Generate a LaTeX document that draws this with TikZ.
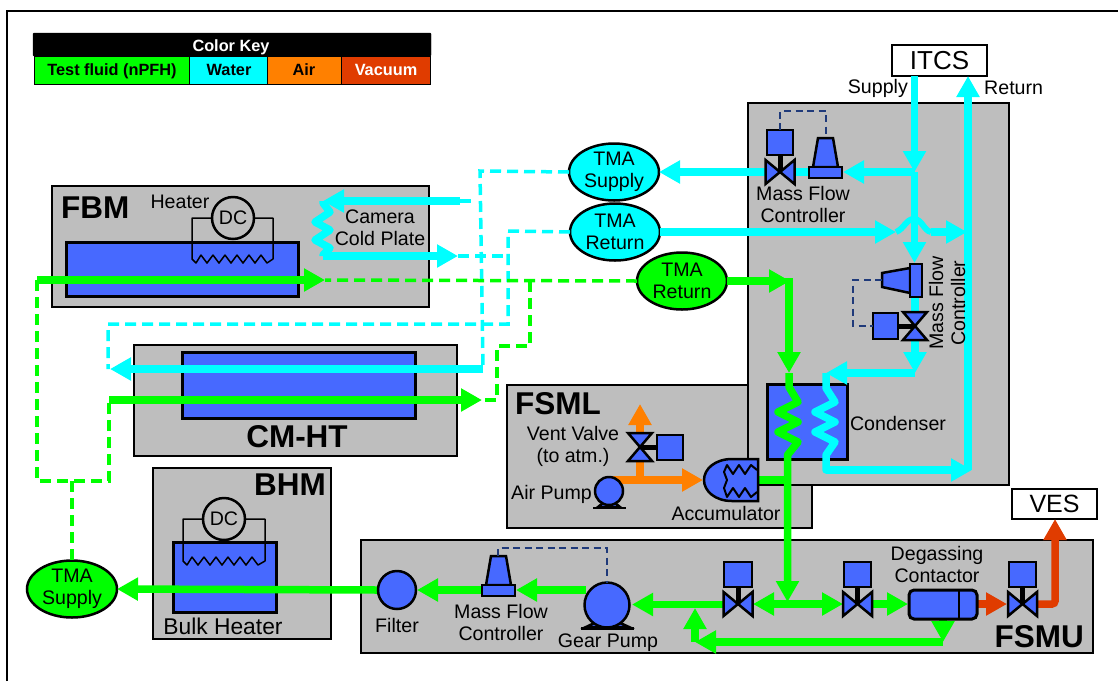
\documentclass[tikz,border=0pt]{standalone}
\usepackage{fontspec}
\setmainfont{Liberation Sans}
\usetikzlibrary{arrows.meta,shapes.geometric}
\definecolor{wgrey}{HTML}{BEBEBE}
\definecolor{wblue}{HTML}{4769FF}
\definecolor{wgreen}{HTML}{00FF00}
\definecolor{wcyan}{HTML}{00FFFF}
\definecolor{worange}{HTML}{FF8000}
\definecolor{wred}{HTML}{E03C00}
\definecolor{wnavy}{HTML}{1F3A7A}
\tikzset{
  lbl/.style={font=\fontsize{19.6}{22}\selectfont,align=center,inner sep=0pt,text=black},
  bigl/.style={font=\fontsize{31.5}{33}\selectfont\bfseries,inner sep=0pt,text=black},
  keyt/.style={font=\fontsize{16.3}{18}\selectfont\bfseries,inner sep=0pt,anchor=base},
  module/.style={draw=black,fill=wgrey,line width=2pt,inner sep=0pt,outer sep=0pt},
  blueb/.style={draw=black,fill=wblue,line width=3pt,inner sep=0pt,outer sep=0pt},
  whiteb/.style={draw=black,fill=white,line width=2.5pt,inner sep=0pt,outer sep=0pt},
  keyc/.style={draw=black,line width=1pt,inner sep=0pt,outer sep=0pt},
  ell/.style={ellipse,draw=black,line width=2.5pt,minimum width=90pt,minimum height=57pt,inner sep=0pt,outer sep=0pt,font=\fontsize{19.6}{22}\selectfont,align=center},
  pipe/.style={line width=7.5pt,line join=miter},
  gp/.style={pipe,draw=wgreen},
  cp/.style={pipe,draw=wcyan},
  op/.style={pipe,draw=worange},
  rp/.style={pipe,draw=wred},
  hd/.style={-{Triangle[length=21pt,width=22pt]}},
  dp/.style={line width=3.5pt,dash pattern=on 11pt off 6pt,line join=miter},
  sig/.style={draw=wnavy,line width=2pt,dash pattern=on 7pt off 4.5pt},
  shp/.style={draw=black,fill=wblue,line width=2.5pt,line join=miter},
  wire/.style={draw=black,line width=1.5pt},
  stem/.style={draw=black,line width=5pt},
  dcn/.style={circle,draw=black,fill=wgrey,line width=2.5pt,minimum size=42pt,inner sep=0pt,outer sep=0pt,font=\fontsize{19.6}{22}\selectfont},
  pumpc/.style={circle,draw=black,fill=wblue,line width=2.5pt,inner sep=0pt,outer sep=0pt},
  hvalve/.pic={\path[shp] (-14.5,-12)--(0,0)--(-14.5,12)--cycle;\path[shp] (14.5,-12)--(0,0)--(14.5,12)--cycle;},
  vvalve/.pic={\path[shp] (-12,-14)--(0,0)--(12,-14)--cycle;\path[shp] (-12,14)--(0,0)--(12,14)--cycle;}
}
\newcommand\rectnode[6]{\pgfmathsetmacro\rnw{#4-#2}\pgfmathsetmacro\rnh{#5-#3}\node[#6,minimum width=\rnw pt,minimum height=\rnh pt,anchor=north west] (#1) at (#2,#3) {};}
\begin{document}
\begin{tikzpicture}[x=1pt,y=-1pt]
\useasboundingbox (0,0) rectangle (1118,681);
\draw[black,line width=2.5pt] (7,681)--(7,11)--(1118,11);
% colour key
\rectnode{keyhead}{33}{33}{431}{56}{draw=black,fill=black,rounded corners=1pt,inner sep=0pt,outer sep=0pt}
\node[keyt,text=white] (keytitle) at (231,51) {Color Key};
\rectnode{keyg}{34}{56}{189}{84}{keyc,fill=wgreen}
\rectnode{keyw}{189}{56}{267}{84}{keyc,fill=wcyan}
\rectnode{keya}{267}{56}{341}{84}{keyc,fill=worange}
\rectnode{keyv}{341}{56}{430}{84}{keyc,fill=wred}
\node[keyt] (keygt) at (112,75) {Test fluid (nPFH)};
\node[keyt] (keywt) at (229,75) {Water};
\node[keyt] (keyat) at (304,75) {Air};
\node[keyt,text=white] (keyvt) at (386,75) {Vacuum};
% modules
\rectnode{fbm}{52}{186}{429}{307}{module}
\rectnode{cmht}{134}{345}{457}{456}{module}
\rectnode{bhm}{153}{468}{331}{639}{module}
\rectnode{fsml}{507}{385}{812}{528}{module}
\rectnode{main}{748}{103}{1009}{485}{module}
\rectnode{fsmu}{361}{540}{1093}{653}{module}
\rectnode{itcs}{892}{45}{987}{76}{whiteb}
\rectnode{ves}{1012}{489}{1097}{519}{whiteb}
\node[lbl,font=\fontsize{26}{28}\selectfont] (itcst) at (939.5,60.5) {ITCS};
\node[lbl,font=\fontsize{25}{27}\selectfont] (vest) at (1054.5,504) {VES};
% blue vessels
\rectnode{fbmb}{66}{242}{298}{296}{blueb}
\rectnode{cmb}{182}{352}{415}{418}{blueb}
\rectnode{bhb}{173}{542}{276}{612}{blueb}
\rectnode{cond}{767}{384}{847}{459}{blueb}
% titles
\node[bigl,anchor=west] (fbmt) at (61,208) {FBM};
\node[bigl] (cmt) at (297,437) {CM-HT};
\node[bigl,anchor=east] (bhmt) at (326,485) {BHM};
\node[bigl,anchor=west] (fsmlt) at (515,404) {FSML};
\node[bigl,anchor=east] (fsmut) at (1084,637) {FSMU};
% heaters
\node[dcn] (dc1) at (233,218) {DC};
\draw[wire,line join=round] (dc1.west)--(192,218)--(192,259)--(196,263)--(201,255)--(207,263)--(213,255)--(219,263)--(225,255)--(231,263)--(237,255)--(243,263)--(249,255)--(255,263)--(261,255)--(267,263)--(273,259)--(273,218)--(dc1.east);
\node[dcn] (dc2) at (224,519) {DC};
\draw[wire,line join=round] (dc2.west)--(183,519)--(183,561)--(187,565)--(192,557)--(198,565)--(204,557)--(210,565)--(216,557)--(222,565)--(228,557)--(234,565)--(240,557)--(246,565)--(252,557)--(258,565)--(265,561)--(265,519)--(dc2.east);
\node[lbl] (heatert) at (180,202) {Heater};
\node[lbl] (camt) at (380,228) {Camera\\Cold Plate};
\node[lbl,font=\fontsize{22.8}{25}\selectfont] (bulkt) at (223,626) {Bulk Heater};
% ellipses
\node[ell,fill=wcyan] (tsc) at (614,172) {TMA\\Supply};
\node[ell,fill=wcyan] (trc) at (615,232) {TMA\\Return};
\node[ell,fill=wgreen] (trg) at (682,281) {TMA\\Return};
\node[ell,fill=wgreen] (tsg) at (72,589) {TMA\\Supply};
% named routing points
\coordinate (camin) at (460,201);
\coordinate (camtop) at (323,201);
\coordinate (cambot) at (323,256);
\coordinate (camout) at (458,256);
\coordinate (cmcyR) at (483,369);
\coordinate (cmcyL) at (110,369);
\coordinate (cmgrL) at (109,400);
\coordinate (cmgrR) at (482,400);
\coordinate (fbmgrL) at (37,280);
\coordinate (fbmgrR) at (325,280);
\coordinate (junc) at (72,481);
\coordinate (grmid) at (530,281);
% dashed water
\draw[wcyan,dp] (tsc.west)--(480,171)--(cmcyR);
\draw[wcyan,dp] (camin)--(475,201);
\draw[wcyan,dp] (trc.west)--(508,231)--(508,324)--(108,324)--(108,369);
\draw[wcyan,dp] (camout)--(503,256);
% dashed fluid
\draw[wgreen,dp] (trg.west)--(fbmgrR);
\draw[wgreen,dp] (grmid)--(530,346)--(497,346)--(497,400)--(cmgrR);
\draw[wgreen,dp] (fbmgrL)--(37,481)--(109,481)--(cmgrL);
\draw[wgreen,dp] (junc)--(tsg.north);
% solid pipes outside main
\draw[cp,hd] (camin)--(camtop);
\draw[cp,line join=round] (camtop)--(323,203)--(330,212)--(315,222)--(330,230)--(315,240)--(330,248)--(323,255)--(cambot);
\draw[cp,hd] (cambot)--(camout);
\draw[cp,hd] (cmcyR)--(cmcyL);
\draw[gp,hd] (fbmgrL)--(fbmgrR);
\draw[gp,hd] (cmgrL)--(cmgrR);
% main-box junctions
\coordinate (supA) at (914.5,172);
\coordinate (supB) at (914.5,263);
\coordinate (retT) at (968,76);
\coordinate (retB) at (968,470);
\coordinate (retC) at (967,232);
\coordinate (brL) at (896,232);
\coordinate (brR) at (931,232);
\coordinate (vout) at (915,373);
\coordinate (czT) at (826,373);
\coordinate (czB) at (826,470);
\coordinate (gzT) at (789,373);
\coordinate (gcorner) at (790,281);
\coordinate (gout) at (787.5,602);
\coordinate (accJ) at (787.5,480);
% water in main
\draw[cp,hd] (914.5,76)--(supA);
\draw[cp,hd] (supA)--(supB);
\draw[cp,hd] (supA)--(843,172);
\draw[cp] (810,172)--(794,172);
\draw[cp,hd] (766,172)--(tsc.east);
\draw[cp,hd] (trc.east)--(brL);
\draw[cp,line join=round,line width=6pt] (brL) .. controls (904,229) and (906,219) .. (914,219) .. controls (922,219) and (924,231) .. (brR);
\draw[cp,hd] (brR)--(retC);
\draw[cp,hd] (retB)--(retT);
\draw[cp] (915,296)--(915,313);
\draw[cp,hd] (915,339)--(vout);
\draw[cp,hd] (vout)--(czT);
\draw[cp,line join=round] (czT)--(826,388)--(835,402)--(815,412)--(835,422)--(815,432)--(835,442)--(826,455)--(czB)--(835,470);
\draw[cp,hd] (czB)--(972,470);
% fluid in main
\draw[gp,hd] (trg.east)--(gcorner);
\draw[gp,hd] (789,278)--(gzT);
\draw[gp,line join=round] (gzT)--(789,387)--(798,402)--(778,412)--(798,422)--(778,432)--(798,442)--(787.5,455)--(787.5,590);
\draw[gp,hd] (787.5,470)--(gout);
\node[lbl] (condt) at (898,423) {Condenser};
\node[lbl,anchor=east] (supt) at (908,88) {Supply};
\node[lbl,anchor=west] (rett) at (984,88) {Return};
% top MFC
\rectnode{mfca}{767}{130}{793}{155}{shp,inner sep=0pt,outer sep=0pt}
\draw[stem] (mfca.south)--(780,172);
\pic at (780,172) {hvalve};
\path[shp] (813,167)--(818,138)--(833,138)--(838,167)--cycle;
\rectnode{metera}{809}{167}{842}{178}{shp,inner sep=0pt,outer sep=0pt}
\draw[sig] (mfca.north)--(780,111)--(826,111)--(826,138);
\node[lbl] (mfcat) at (803,204.5) {Mass Flow\\Controller};
% right MFC
\path[shp] (910,268)--(882,273)--(882,287)--(910,293)--cycle;
\rectnode{meterb}{910}{264}{922}{297}{shp,inner sep=0pt,outer sep=0pt}
\rectnode{mfcb}{873}{313}{898}{339}{shp,inner sep=0pt,outer sep=0pt}
\draw[stem] (mfcb.east)--(915,326);
\pic at (915,326) {vvalve};
\draw[sig] (882,280)--(853,280)--(853,326)--(mfcb.west);
\node[lbl,rotate=90] (mfcbt) at (947,303) {Mass Flow\\Controller};
% FSML
\draw[op,hd] (609,480)--(703,480);
\draw[op] (640,480)--(640,461);
\draw[op,hd] (640,433)--(640,404);
\rectnode{mfcc}{657}{435}{683}{460}{shp,inner sep=0pt,outer sep=0pt}
\draw[stem] (mfcc.west)--(640,447.5);
\pic at (640,447) {vvalve};
\path[shp] (598,507)--(620,507)--(609,498)--cycle;
\draw[black,line width=2.5pt] (593,508)--(626,508);
\node[pumpc,minimum size=28pt] (airp) at (609,491) {};
\draw[gp] (accJ)--(757,480);
\path[shp] (758,459)--(732,459) .. controls (715,459) and (704,469) .. (704,480) .. controls (704,491) and (715,501) .. (732,501)--(758,501)--cycle;
\draw[wire,line width=2pt,line join=round] (757,470)--(751,465)--(745,474)--(739,465)--(733,474)--(727,465)--(724,472)--(727,480)--(724,488)--(727,497)--(733,488)--(739,497)--(745,488)--(751,497)--(757,492);
\node[lbl] (ventt) at (573,446.5) {Vent Valve\\(to atm.)};
\node[lbl,anchor=east] (airt) at (592,494) {Air Pump};
\node[lbl] (acct) at (726,513) {Accumulator};
% FSMU pipes
\coordinate (fsmJ) at (787.5,604);
\coordinate (loopR) at (943,642);
\coordinate (loopL) at (695,642);
\draw[gp,hd] (724,604.5)--(632,604.5);
\draw[gp,hd] (loopL)--(695,608);
\draw[gp,hd] (loopR)--(loopL);
\draw[gp,hd] (943,619)--(loopR);
\draw[gp,hd] (fsmJ)--(753,604);
\draw[gp,hd] (fsmJ)--(843,604);
\draw[gp,hd] (871,604)--(908,604);
\draw[gp,hd] (586,590)--(516,590);
\draw[gp,hd] (482,590)--(417,590);
\draw[gp,hd] (378,590)--(tsg.east);
\draw[rp,hd] (977,604)--(1007,604);
\draw[rp,hd,rounded corners=3pt] (1035,604)--(1055,604)--(ves.south -| 1055,0);
% valves in FSMU
\rectnode{v1}{724}{562}{752}{587}{shp,inner sep=0pt,outer sep=0pt}
\rectnode{v2}{844}{562}{871}{587}{shp,inner sep=0pt,outer sep=0pt}
\rectnode{v3}{1009}{562}{1036}{587}{shp,inner sep=0pt,outer sep=0pt}
\draw[stem] (v1.south)--(738,604);
\draw[stem] (v2.south)--(857.5,604);
\draw[stem] (v3.south)--(1022.5,604);
\pic at (738,604) {hvalve};
\pic at (857.5,604) {hvalve};
\pic at (1022.5,604) {hvalve};
\node[draw=black,fill=wblue,line width=3pt,rounded corners=5pt,minimum width=68pt,minimum height=29pt,inner sep=0pt,outer sep=0pt] (degas) at (943,604.5) {};
\draw[black,line width=2.5pt] (959,590)--(959,619);
\node[lbl] (degt) at (937,564) {Degassing\\Contactor};
% gear pump, filter, flow meter
\path[shp] (586,627)--(629,627)--(607,617)--cycle;
\draw[black,line width=2.5pt] (581,628.5)--(634,628.5);
\node[pumpc,minimum size=45pt] (gear) at (607,605) {};
\node[pumpc,minimum size=38pt] (filter) at (397,590) {};
\path[shp] (486,585)--(491,556)--(506,556)--(511,585)--cycle;
\rectnode{meterc}{482}{585}{515}{596}{shp,inner sep=0pt,outer sep=0pt}
\draw[sig] (498,556)--(498,548)--(607,548)--(gear.north);
\node[lbl] (mfcct) at (501,622) {Mass Flow\\Controller};
\node[lbl] (gpt) at (608,643) {Gear Pump};
\node[lbl] (filt) at (397,625) {Filter};
\end{tikzpicture}
\end{document}
